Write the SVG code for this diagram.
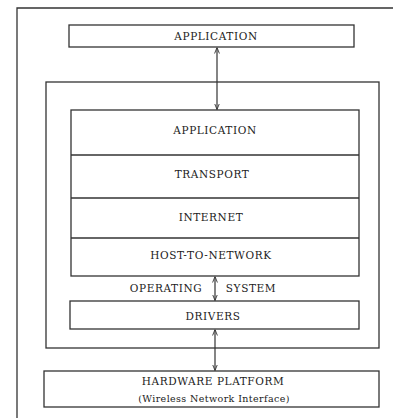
<svg xmlns="http://www.w3.org/2000/svg" width="393" height="418" viewBox="0 0 393 418">
<defs>
<marker id="ah" viewBox="0 0 10 10" refX="10" refY="5" markerWidth="6" markerHeight="6" orient="auto-start-reverse" markerUnits="userSpaceOnUse">
<path d="M0,1 L10,5 L0,9" fill="none" stroke="#333" stroke-width="1.5"/>
</marker>
</defs>
<style>
.box{fill:#fff;stroke:#333;stroke-width:1.3}
.ln{stroke:#333;stroke-width:1.3;fill:none}
text{font-family:'DejaVu Serif','Liberation Serif',serif;font-size:10.5px;fill:#222;text-anchor:middle;letter-spacing:0.6px}
.con{stroke:#333;stroke-width:1.2;fill:none;marker-start:url(#ah);marker-end:url(#ah)}
</style>
<rect width="393" height="418" fill="#fff"/>
<g id="frame"><path class="ln" d="M17,418 V8 H393"/></g>
<g id="app-top"><rect class="box" x="69" y="25" width="285" height="22"/><text x="216" y="40">APPLICATION</text></g>
<g id="os"><rect class="box" x="46" y="82" width="333" height="266"/>
<text x="166" y="292">OPERATING</text><text x="251" y="292">SYSTEM</text></g>
<g id="stack"><rect class="box" x="71" y="110" width="288" height="166"/>
<line class="ln" x1="71" y1="155" x2="359" y2="155"/>
<line class="ln" x1="71" y1="198" x2="359" y2="198" stroke-width="1.8"/>
<line class="ln" x1="71" y1="238" x2="359" y2="238"/>
<text x="215" y="134">APPLICATION</text>
<text x="212" y="178">TRANSPORT</text>
<text x="211" y="221">INTERNET</text>
<text x="211" y="259">HOST-TO-NETWORK</text></g>
<g id="drivers"><rect class="box" x="70" y="301" width="289" height="28"/><text x="213" y="320">DRIVERS</text></g>
<g id="hardware"><rect class="box" x="44" y="371" width="335" height="36"/><text x="213" y="385">HARDWARE PLATFORM</text><text x="214" y="402" style="font-size:9.5px;letter-spacing:0.4px">(Wireless Network Interface)</text></g>
<g id="connectors">
<line class="con" x1="217" y1="47.5" x2="217" y2="109.5"/>
<line class="con" x1="215" y1="276.5" x2="215" y2="300.5"/>
<line class="con" x1="215" y1="329.5" x2="215" y2="370.5"/>
</g>
</svg>
